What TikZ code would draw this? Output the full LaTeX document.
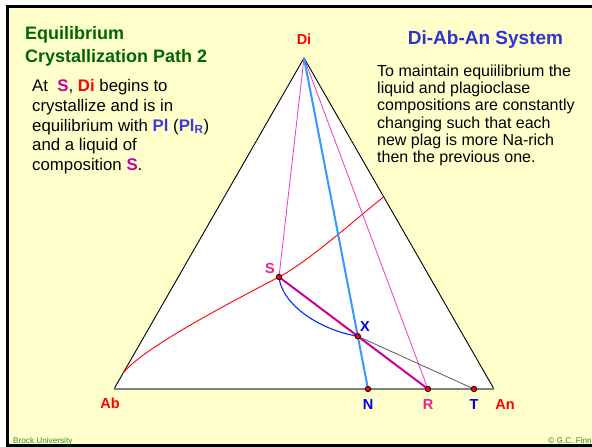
\documentclass[tikz,border=0pt]{standalone}
\usepackage{fontspec}
\setmainfont{Liberation Sans}
\usetikzlibrary{shapes.geometric, arrows}
\definecolor{slideyellow}{RGB}{255,255,204}
\definecolor{titlegreen}{RGB}{0,102,0}
\definecolor{titleblue}{RGB}{51,51,204}
\definecolor{plagblue}{RGB}{60,60,220}
\definecolor{liqmagenta}{RGB}{204,0,153}
\definecolor{labpink}{RGB}{240,30,140}
\definecolor{labblue}{RGB}{0,0,230}
\definecolor{tieblue}{RGB}{51,153,255}
\definecolor{thinpink}{RGB}{230,60,200}
\definecolor{pathblue}{RGB}{0,40,255}
\definecolor{footgreen}{RGB}{51,136,51}
\tikzstyle{triedge} = [
    draw=black,
    line width=0.9pt
]
\tikzstyle{baseedge} = [
    draw=gray,
    line width=1.4pt
]
\tikzstyle{cotectic} = [
    draw=red,
    line width=0.9pt
]
\tikzstyle{pinkline} = [
    draw=thinpink,
    line width=0.8pt
]
\tikzstyle{tieline} = [
    draw=tieblue,
    line width=2pt
]
\tikzstyle{liqline} = [
    draw=liqmagenta,
    line width=2pt
]
\tikzstyle{greyline} = [
    draw=black!65,
    line width=0.8pt
]
\tikzstyle{pathcurve} = [
    draw=pathblue,
    line width=1.1pt
]
\tikzstyle{phasept} = [
    circle,
    inner sep=0pt,
    minimum size=5.5pt,
    fill=red,
    draw=black,
    line width=0.7pt
]
\tikzstyle{ptlabel} = [
    anchor=base,
    inner sep=0pt,
    font=\fontsize{14.5}{16}\selectfont\bfseries
]
\tikzstyle{bodytext} = [
    anchor=north west,
    align=left,
    inner sep=0pt
]

\begin{document}
\begin{tikzpicture}[x=1pt, y=-1pt]

\useasboundingbox (0,0) rectangle (592,447);
\fill[slideyellow] (7.5,6.5) rectangle (592,445);
\draw[line width=3pt] (592,6.5) -- (7.5,6.5) -- (7.5,445) -- (592,445);

\coordinate (Di) at (304,58);
\coordinate (Ab) at (114,389);
\coordinate (An) at (494,389);
\coordinate (S) at (279,277);
\coordinate (N) at (368,389);
\coordinate (R) at (428,389);
\coordinate (T) at (474,389);
\coordinate (X) at (intersection of Di--N and S--R);
\coordinate (cotAb) at (123.2,373);
\coordinate (cotAn) at (383.5,197);

\fill[white] (Di) -- (Ab) -- (An) -- cycle;
\draw[triedge] (Ab) -- (Di) -- (An);
\draw[baseedge] (Ab) -- (An);

\draw[cotectic] (cotAb) .. controls (140,352) and (200,318) .. (S)
    .. controls (309,261) and (351,223) .. (cotAn);
\draw[pinkline] (Di) -- (S);
\draw[pinkline] (Di) -- (R);
\draw[tieline] (Di) -- (N);
\draw[liqline] (S) -- (R);
\draw[greyline] (X) -- (T);
\draw[pathcurve] (S) .. controls (282,305) and (320,330) .. (X);

\foreach \p in {S, X, N, R, T}
    \node[phasept] (dot\p) at (\p) {};

\node[ptlabel, text=red] (labDi) at (304,45) {Di};
\node[ptlabel, text=red] (labAb) at (110,408) {Ab};
\node[ptlabel, text=red] (labAn) at (505,409) {An};
\node[ptlabel, text=labblue] (labN) at (368,409) {N};
\node[ptlabel, text=labpink] (labR) at (428,409) {R};
\node[ptlabel, text=labblue] (labT) at (474,409) {T};
\node[ptlabel, text=labpink] (labS) at (270,273) {S};
\node[ptlabel, text=labblue] (labX) at (365,331) {X};

\node[bodytext, text=titlegreen,
    font=\fontsize{18}{23}\selectfont\bfseries] (title) at (25,26.4)
{Equilibrium\\Crystallization Path 2};

\node[anchor=base, inner sep=0pt, text=titleblue,
    font=\fontsize{19}{22}\selectfont\bfseries] (system) at (485.5,45)
{Di-Ab-An System};

\node[bodytext, font=\fontsize{16.8}{19.6}\selectfont] (intro) at (32,79.5)
{At\ \ \textbf{\textcolor{liqmagenta}{S}}, \textbf{\textcolor{red}{Di}} begins to\\
crystallize and is in\\
equilibrium with \textbf{\textcolor{plagblue}{Pl}}
(\textbf{\textcolor{plagblue}{Pl\textsubscript{R}}})\\
and a liquid of\\
composition \textbf{\textcolor{liqmagenta}{S}}.};

\node[bodytext, font=\fontsize{16}{17.3}\selectfont] (note) at (377,64.5)
{To maintain equiilibrium the\\
liquid and plagioclase\\
compositions are constantly\\
changing such that each\\
new plag is more Na-rich\\
then the previous one.};

\node[anchor=base west, inner sep=0pt, text=footgreen,
    font=\fontsize{8.2}{9}\selectfont] (brock) at (13,443) {Brock University};
\node[anchor=base east, inner sep=0pt, text=footgreen,
    font=\fontsize{8.2}{9}\selectfont] (finn) at (592,443) {© G.C. Finn};

\end{tikzpicture}
\end{document}
